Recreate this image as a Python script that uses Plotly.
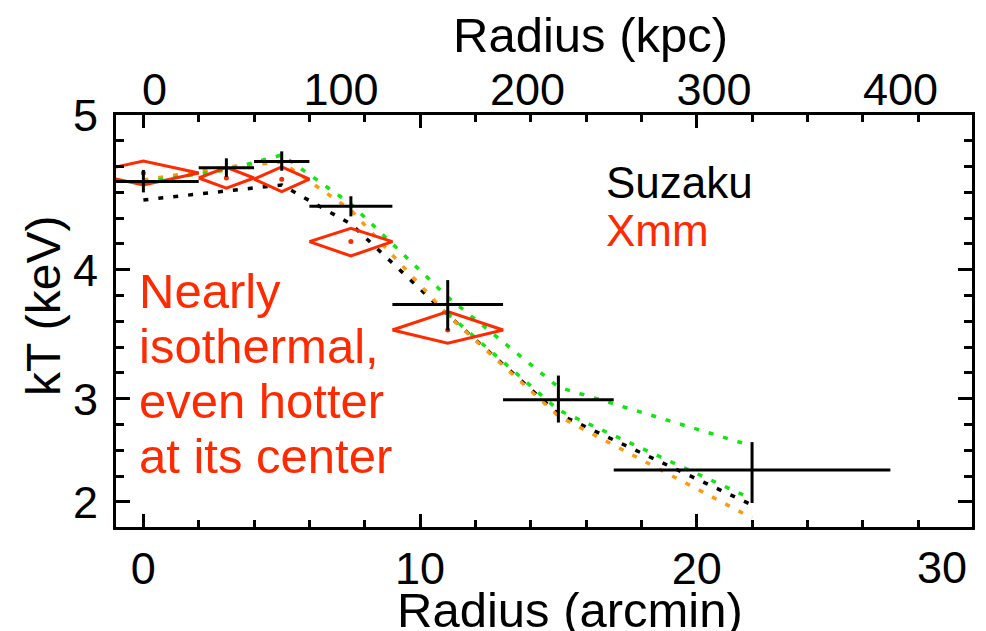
import numpy as np
import plotly.graph_objects as go

# ---------------- data ----------------
# Suzaku (black crosses)
suz_r = [0, 3, 5, 7.5, 11, 15, 22]
suz_r_lo = [-2, 2, 4, 6, 9, 13, 17]
suz_r_hi = [2, 4, 6, 9, 13, 17, 27]
suz_kt = [4.57, 4.66, 4.70, 4.41, 3.73, 2.99, 2.31]
suz_kt_hi = [4.645, 4.72, 4.765, 4.475, 3.92, 3.18, 2.58]
suz_kt_lo = [4.50, 4.60, 4.64, 4.345, 3.53, 2.77, 1.99]

# XMM (red diamonds)
xmm_r = [0, 3, 5, 7.5, 11]
xmm_r_lo = [-2, 2, 4, 6, 9]
xmm_r_hi = [2, 4, 6, 9, 13]
xmm_kt = [4.625, 4.593, 4.585, 4.182, 3.533]
xmm_kt_hi = [4.703, 4.662, 4.665, 4.268, 3.676]
xmm_kt_lo = [4.548, 4.527, 4.505, 4.089, 3.43]

# projected model profiles (dotted)
model_r = [0, 3, 5, 7.5, 11, 15, 22]
model_black = [4.451, 4.509, 4.548, 4.296, 3.650, 2.853, 1.971]
model_orange = [4.58, 4.664, 4.696, 4.386, 3.650, 2.833, 1.845]
model_green = [4.567, 4.645, 4.742, 4.425, 3.789, 3.091, 2.543]
model_green2_r = [11, 15, 22]
model_green2 = [3.66, 2.891, 2.029]

# axis labels
y_ticks = [2, 3, 4, 5]
bottom_ticks = [0, 10, 20, 30]
top_ticks = [0, 100, 200, 300, 400]

# the original figure's kT axis is non-uniform: piecewise-linear knots
KT_KNOTS = [2, 3, 4, 5]
V_KNOTS = [0, 4, 9, 15]


def to_axis(kt):
    kt = np.asarray(kt, dtype=float)
    v = np.interp(kt, KT_KNOTS, V_KNOTS)
    lo_slope = (V_KNOTS[1] - V_KNOTS[0]) / (KT_KNOTS[1] - KT_KNOTS[0])
    hi_slope = (V_KNOTS[-1] - V_KNOTS[-2]) / (KT_KNOTS[-1] - KT_KNOTS[-2])
    v = np.where(kt < KT_KNOTS[0], V_KNOTS[0] + (kt - KT_KNOTS[0]) * lo_slope, v)
    v = np.where(kt > KT_KNOTS[-1], V_KNOTS[-1] + (kt - KT_KNOTS[-1]) * hi_slope, v)
    return v


RED = "#ff2a00"
GREEN = "#12e612"
ORANGE = "#ff9a10"
FONT = "Liberation Sans, Arial, sans-serif"

# plot-area geometry (pixels)
L, R, T, B = 116, 972, 115, 527
W, H = R - L, B - T


def px(xp):
    return (xp - L) / W


def py(yp):
    return (B - yp) / H


fig = go.Figure()

dot = "5px,10px"
for r, kt, col in [(model_r, model_black, "black"),
                   (model_r, model_orange, ORANGE),
                   (model_r, model_green, GREEN),
                   (model_green2_r, model_green2, GREEN)]:
    fig.add_trace(go.Scatter(x=r, y=to_axis(kt), mode="lines",
                             line=dict(color=col, width=3.5, dash=dot),
                             hoverinfo="skip", showlegend=False))

# XMM diamonds
dx, dy = [], []
for r, rl, rh, k, kh, kl in zip(xmm_r, xmm_r_lo, xmm_r_hi, xmm_kt, xmm_kt_hi, xmm_kt_lo):
    c, top, bot = to_axis([k, kh, kl])
    dx += [rl, r, rh, r, rl, None]
    dy += [c, top, c, bot, c, None]
fig.add_trace(go.Scatter(x=dx, y=dy, mode="lines", line=dict(color=RED, width=3),
                         showlegend=False, hoverinfo="skip"))
fig.add_trace(go.Scatter(x=xmm_r, y=to_axis(xmm_kt), mode="markers",
                         marker=dict(color=RED, size=5), showlegend=False))

# Suzaku crosses
sv = to_axis(suz_kt)
fig.add_trace(go.Scatter(
    x=suz_r, y=sv, mode="markers",
    marker=dict(size=1, color="rgba(0,0,0,0)"),
    error_x=dict(type="data", symmetric=False,
                 array=np.array(suz_r_hi) - np.array(suz_r),
                 arrayminus=np.array(suz_r) - np.array(suz_r_lo),
                 color="black", thickness=3, width=0),
    error_y=dict(type="data", symmetric=False,
                 array=to_axis(suz_kt_hi) - sv,
                 arrayminus=sv - to_axis(suz_kt_lo),
                 color="black", thickness=3, width=0),
    showlegend=False))

XR = [-0.99, 29.95]
KPC_R = [-20.7, 438.3]
fig.update_layout(
    width=986, height=631,
    margin=dict(l=L, r=986 - R, t=T, b=631 - B),
    plot_bgcolor="white", paper_bgcolor="white",
    font=dict(family=FONT, size=45, color="black"),
    xaxis=dict(range=XR, showline=True, linecolor="black", linewidth=3,
               mirror="ticks", ticks="inside", ticklen=13, tickwidth=3,
               tickcolor="black", tickvals=bottom_ticks[:3],
               ticktext=[str(t) for t in bottom_ticks[:3]],
               showgrid=False, zeroline=False, ticklabelstandoff=0,
               minor=dict(dtick=2, tick0=0, ticks="inside", ticklen=7,
                          tickwidth=3, tickcolor="black", showgrid=False),
               tickfont=dict(size=45)),
    xaxis2=dict(overlaying="x", side="top", range=KPC_R,
                ticks="", showline=False, showgrid=False, zeroline=False,
                tickvals=top_ticks, ticktext=[str(t) for t in top_ticks],
                tickfont=dict(size=45)),
    yaxis=dict(range=[-0.97, 15], showline=True, linecolor="black", linewidth=3,
               mirror="ticks", ticks="inside", ticklen=14, tickwidth=3,
               tickcolor="black", tickvals=to_axis(y_ticks),
               ticktext=[str(t) for t in y_ticks],
               showgrid=False, zeroline=False, ticklabelstandoff=6,
               minor=dict(dtick=1, tick0=0, ticks="inside", ticklen=8,
                          tickwidth=3, tickcolor="black", showgrid=False),
               tickfont=dict(size=45)),
)
# invisible trace anchoring the top (kpc) axis
fig.add_trace(go.Scatter(x=[None], y=[None], xaxis="x2", showlegend=False))

ann = []
ann.append(dict(text="30", x=28.85, xref="x", y=py(567), yref="paper",
                xanchor="center", yanchor="middle", showarrow=False,
                font=dict(size=45)))
ann.append(dict(text="Radius (kpc)", x=px(590), xref="paper", y=py(35),
                yref="paper", yanchor="middle", showarrow=False,
                font=dict(size=49)))
ann.append(dict(text="Radius (arcmin)", x=px(570), xref="paper",
                y=py(610), yref="paper", yanchor="middle",
                showarrow=False, font=dict(size=49)))
ann.append(dict(text="kT (keV)", x=px(43), xref="paper",
                y=py(306), yref="paper", textangle=-90,
                xanchor="center", yanchor="middle", showarrow=False,
                font=dict(size=48)))
ann.append(dict(text="Suzaku", x=px(604), xref="paper",
                y=py(182), yref="paper", xanchor="left", yanchor="middle",
                showarrow=False, font=dict(size=44, color="black")))
ann.append(dict(text="Xmm", x=px(604), xref="paper",
                y=py(230), yref="paper", xanchor="left", yanchor="middle",
                showarrow=False, font=dict(size=44, color=RED)))
note_lines = ["Nearly", "isothermal,", "even hotter", "at its center"]
for i, line in enumerate(note_lines):
    ann.append(dict(text=line, x=px(137), xref="paper",
                    y=py(291 + 55 * i), yref="paper",
                    xanchor="left", yanchor="middle", showarrow=False,
                    font=dict(size=49, color=RED)))
fig.update_layout(annotations=ann)

fig.write_html("out.html")
